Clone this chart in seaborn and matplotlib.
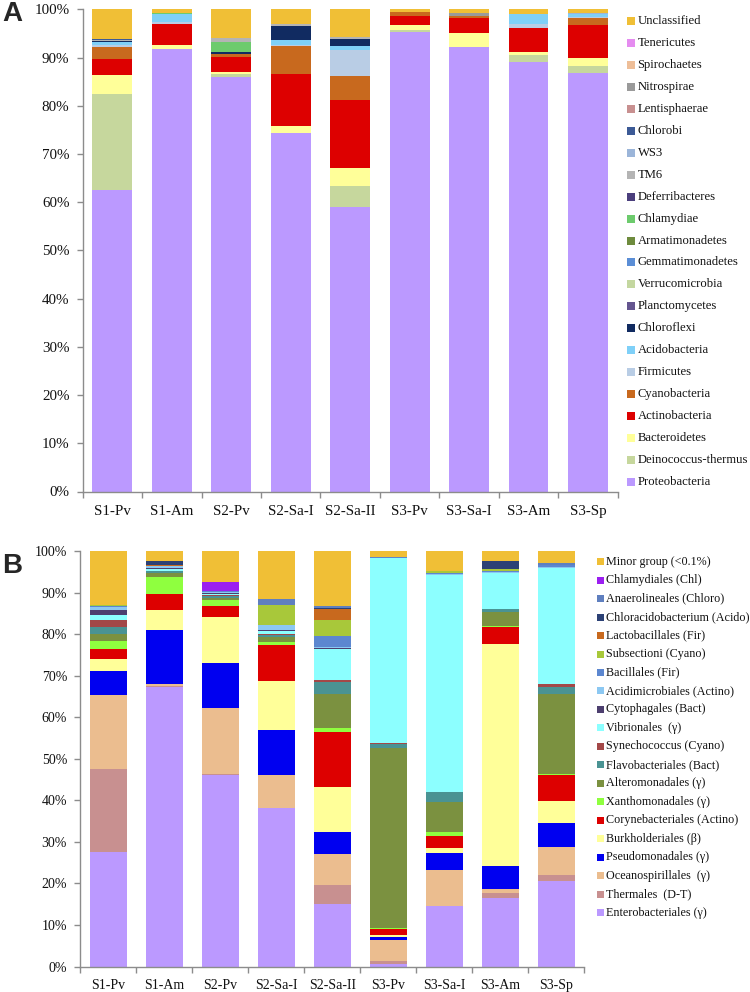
import numpy as np
import pandas as pd
import matplotlib
matplotlib.use("Agg")
import matplotlib.pyplot as plt
from matplotlib.patches import Rectangle
import seaborn as sns

samples = ["S1-Pv", "S1-Am", "S2-Pv", "S2-Sa-I", "S2-Sa-II", "S3-Pv", "S3-Sa-I", "S3-Am", "S3-Sp"]

# ---------------- Panel A (phylum level), bottom -> top ----------------
a_proteobacteria   = [62.5, 91.7, 86.0, 74.4, 58.9, 95.2, 92.1, 89.0, 86.8]
a_deinococcus      = [20.0, 0.0, 0.5, 0.0, 4.5, 0.6, 0.0, 1.5, 1.4]
a_bacteroidetes    = [3.8, 1.0, 0.6, 1.4, 3.7, 1.0, 2.9, 0.7, 1.8]
a_actinobacteria   = [3.3, 4.2, 3.0, 10.7, 14.0, 1.8, 3.1, 5.0, 6.7]
a_cyanobacteria    = [2.6, 0.0, 0.7, 5.9, 5.0, 0.8, 0.55, 0.0, 1.4]
a_firmicutes       = [0.5, 0.5, 0.0, 0.3, 5.5, 0.0, 0.0, 0.7, 0.4]
a_acidobacteria    = [0.5, 1.6, 0.0, 0.9, 0.7, 0.0, 0.0, 2.1, 0.5]
a_chloroflexi      = [0.3, 0.0, 0.4, 2.9, 1.45, 0.0, 0.0, 0.0, 0.0]
a_planctomycetes   = [0.0, 0.0, 0.0, 0.0, 0.0, 0.0, 0.0, 0.0, 0.0]
a_verrucomicrobia  = [0.0, 0.0, 0.0, 0.0, 0.0, 0.0, 0.0, 0.0, 0.0]
a_gemmatimonadetes = [0.0, 0.0, 0.0, 0.0, 0.0, 0.0, 0.0, 0.0, 0.0]
a_armatimonadetes  = [0.0, 0.0, 0.0, 0.0, 0.0, 0.0, 0.0, 0.0, 0.0]
a_chlamydiae       = [0.0, 0.3, 2.1, 0.0, 0.0, 0.0, 0.0, 0.0, 0.0]
a_deferribacteres  = [0.0, 0.0, 0.0, 0.0, 0.0, 0.0, 0.0, 0.0, 0.0]
a_tm6              = [0.2, 0.0, 0.7, 0.5, 0.55, 0.0, 0.0, 0.0, 0.0]
a_ws3              = [0.0, 0.0, 0.0, 0.0, 0.0, 0.0, 0.0, 0.0, 0.3]
a_chlorobi         = [0.1, 0.0, 0.0, 0.0, 0.0, 0.0, 0.0, 0.0, 0.0]
a_lentisphaerae    = [0.0, 0.0, 0.0, 0.0, 0.0, 0.0, 0.0, 0.0, 0.0]
a_nitrospirae      = [0.0, 0.0, 0.0, 0.0, 0.0, 0.0, 0.6, 0.0, 0.0]
a_spirochaetes     = [0.0, 0.0, 0.0, 0.0, 0.0, 0.0, 0.0, 0.0, 0.0]
a_tenericutes      = [0.0, 0.0, 0.0, 0.0, 0.0, 0.0, 0.0, 0.0, 0.0]
a_unclassified     = [6.2, 0.7, 6.0, 3.0, 5.7, 0.6, 0.75, 1.0, 0.7]

a_names = ["Proteobacteria", "Deinococcus-thermus", "Bacteroidetes", "Actinobacteria",
           "Cyanobacteria", "Firmicutes", "Acidobacteria", "Chloroflexi", "Planctomycetes",
           "Verrucomicrobia", "Gemmatimonadetes", "Armatimonadetes", "Chlamydiae",
           "Deferribacteres", "TM6", "WS3", "Chlorobi", "Lentisphaerae", "Nitrospirae",
           "Spirochaetes", "Tenericutes", "Unclassified"]
a_values = [a_proteobacteria, a_deinococcus, a_bacteroidetes, a_actinobacteria,
            a_cyanobacteria, a_firmicutes, a_acidobacteria, a_chloroflexi, a_planctomycetes,
            a_verrucomicrobia, a_gemmatimonadetes, a_armatimonadetes, a_chlamydiae,
            a_deferribacteres, a_tm6, a_ws3, a_chlorobi, a_lentisphaerae, a_nitrospirae,
            a_spirochaetes, a_tenericutes, a_unclassified]
a_colors = ["#BB99FF", "#C6D79D", "#FFFF99", "#DD0000", "#C8691E", "#B9CDE5", "#7FD0F8",
            "#112B61", "#64558F", "#C4D7A0", "#5B8ED6", "#6E8B3D", "#6DCB6D", "#4B3F7D",
            "#B4B4B4", "#9BB5D9", "#3C5A96", "#C89090", "#9A9A9A", "#EEBE98", "#E58CF0",
            "#F0BF36"]

# ---------------- Panel B (order level), bottom -> top ----------------
b_enterobacteriales = [27.5, 67.2, 46.1, 38.1, 15.1, 0.6, 14.6, 16.4, 20.5]
b_thermales         = [20.0, 0.3, 0.3, 0.0, 4.5, 0.8, 0.0, 1.4, 1.5]
b_oceanospirillales = [17.9, 0.6, 15.7, 7.9, 7.5, 4.9, 8.6, 0.8, 6.8]
b_pseudomonadales   = [5.8, 12.9, 11.0, 10.9, 5.2, 0.9, 4.1, 5.6, 5.8]
b_burkholderiales   = [2.9, 4.8, 11.0, 11.8, 10.8, 0.4, 1.2, 53.3, 5.2]
b_corynebacteriales = [2.2, 3.9, 2.6, 8.7, 13.3, 1.5, 2.9, 4.1, 6.2]
b_xanthomonadales   = [2.0, 4.0, 1.4, 0.8, 0.9, 0.2, 1.0, 0.4, 0.4]
b_alteromonadales   = [1.8, 1.1, 0.5, 1.0, 8.4, 43.4, 7.3, 3.4, 19.3]
b_flavobacteriales  = [1.6, 0.4, 0.6, 0.5, 2.7, 0.8, 2.4, 0.6, 1.5]
b_synechococcus     = [1.6, 0.0, 0.3, 0.3, 0.5, 0.2, 0.0, 0.0, 0.8]
b_vibrionales       = [1.2, 0.4, 0.2, 0.8, 7.5, 44.7, 52.1, 8.6, 27.8]
b_cytophagales      = [1.2, 0.4, 0.3, 0.2, 0.3, 0.0, 0.0, 0.0, 0.0]
b_acidimicrobiales  = [0.8, 0.3, 0.2, 1.1, 0.3, 0.0, 0.2, 0.3, 0.3]
b_bacillales        = [0.3, 0.2, 0.2, 0.0, 2.6, 0.2, 0.3, 0.4, 0.6]
b_subsectioni       = [0.2, 0.0, 0.0, 5.0, 3.8, 0.0, 0.4, 0.3, 0.0]
b_lactobacillales   = [0.0, 0.2, 0.0, 0.0, 2.7, 0.0, 0.0, 0.0, 0.0]
b_chloracidobacterium = [0.0, 1.0, 0.0, 0.0, 0.3, 0.0, 0.1, 1.9, 0.0]
b_anaerolineales    = [0.0, 0.0, 0.0, 1.4, 0.3, 0.0, 0.0, 0.0, 0.5]
b_chlamydiales      = [0.0, 0.0, 2.2, 0.0, 0.0, 0.0, 0.0, 0.0, 0.0]
b_minor             = [13.0, 2.3, 7.4, 11.5, 13.3, 1.4, 4.8, 2.5, 2.8]

b_names = ["Enterobacteriales (γ)", "Thermales  (D-T)", "Oceanospirillales  (γ)",
           "Pseudomonadales (γ)", "Burkholderiales (β)", "Corynebacteriales (Actino)",
           "Xanthomonadales (γ)", "Alteromonadales (γ)", "Flavobacteriales (Bact)",
           "Synechococcus (Cyano)", "Vibrionales  (γ)", "Cytophagales (Bact)",
           "Acidimicrobiales (Actino)", "Bacillales (Fir)", "Subsectioni (Cyano)",
           "Lactobacillales (Fir)", "Chloracidobacterium (Acido)", "Anaerolineales (Chloro)",
           "Chlamydiales (Chl)", "Minor group (<0.1%)"]
b_values = [b_enterobacteriales, b_thermales, b_oceanospirillales, b_pseudomonadales,
            b_burkholderiales, b_corynebacteriales, b_xanthomonadales, b_alteromonadales,
            b_flavobacteriales, b_synechococcus, b_vibrionales, b_cytophagales,
            b_acidimicrobiales, b_bacillales, b_subsectioni, b_lactobacillales,
            b_chloracidobacterium, b_anaerolineales, b_chlamydiales, b_minor]
b_colors = ["#BB99FF", "#C89090", "#EBBD8F", "#0000F0", "#FFFF99", "#DD0000", "#8FFF3F",
            "#7B9140", "#4A9393", "#A34848", "#8CFFFF", "#4D3F6F", "#8CC8F2", "#5C87D0",
            "#A8C83A", "#C8691E", "#2C4175", "#5F7FBF", "#9B1FF0", "#F0BF36"]

# ---------------- style ----------------
sns.set_style("ticks")
plt.rcParams["font.family"] = ["Liberation Serif", "DejaVu Serif"]

W, H = 750, 992
fig = plt.figure(figsize=(W / 100, H / 100), dpi=100)


def px_axes(left, top, right, bottom):
    return fig.add_axes([left / W, 1 - bottom / H, (right - left) / W, (bottom - top) / H])


def draw_panel(ax, names, values, colors, width, tick_fs, xpad):
    df = pd.DataFrame(values, index=names, columns=samples)
    cum = df.cumsum(axis=0)
    # draw from top layer to bottom so each layer shows its own segment
    for name, col in zip(reversed(names), reversed(colors)):
        sns.barplot(x=samples, y=cum.loc[name].values, order=samples, color=col,
                    saturation=1, width=width, ax=ax, errorbar=None,
                    linewidth=0, edgecolor="none")
    ax.set_xlim(-0.5, len(samples) - 0.5)
    ax.set_ylim(0, 100)
    ax.set_yticks(np.arange(0, 101, 10))
    ax.set_yticklabels([f"{v}%" for v in range(0, 101, 10)], fontsize=tick_fs)
    ax.set_xticks(range(len(samples)))
    ax.set_xticklabels(samples, fontsize=tick_fs)
    ax.set_xticks(np.arange(-0.5, len(samples), 1.0), minor=True)
    ax.tick_params(axis="x", which="major", length=0, pad=xpad, colors="#111111")
    ax.tick_params(axis="x", which="minor", length=4, width=1, color="#8C8C8C", direction="out")
    ax.tick_params(axis="y", length=4.5, width=1, color="#8C8C8C", pad=5, labelcolor="#111111")
    for s in ["top", "right"]:
        ax.spines[s].set_visible(False)
    for s in ["left", "bottom"]:
        ax.spines[s].set_color("#8C8C8C")
        ax.spines[s].set_linewidth(1.0)
    ax.set_xlabel("")
    ax.set_ylabel("")


axA = px_axes(82.6, 9.3, 617.7, 491.5)
draw_panel(axA, a_names, a_values, a_colors, 0.67, 10.8, 10.0)

axB = px_axes(80.3, 551, 584.3, 966.5)
draw_panel(axB, b_names, b_values, b_colors, 0.66, 10.0, 9.0)


def manual_legend(names, colors, x_box, box, x_text, y0, pitch, fs):
    for i, (name, col) in enumerate(zip(reversed(names), reversed(colors))):
        yc = y0 + i * pitch
        fig.add_artist(Rectangle((x_box / W, 1 - (yc + box / 2) / H), box / W, box / H,
                                 transform=fig.transFigure, facecolor=col,
                                 edgecolor="none"))
        fig.text(x_text / W, 1 - yc / H, name, fontsize=fs, va="center", ha="left",
                 color="#111111")


manual_legend(a_names, a_colors, 627, 8, 637.5, 20.7, 21.98, 9.1)
manual_legend(b_names, b_colors, 597, 7, 606, 561.7, 18.47, 8.7)

fig.text(2 / W, 1 - 1 / H, "A", fontsize=20, fontweight="bold", va="top", ha="left",
         family=["Liberation Sans", "DejaVu Sans"])
fig.text(2 / W, 1 - 553 / H, "B", fontsize=20, fontweight="bold", va="top", ha="left",
         family=["Liberation Sans", "DejaVu Sans"])

fig.savefig("out.png", dpi=100)
